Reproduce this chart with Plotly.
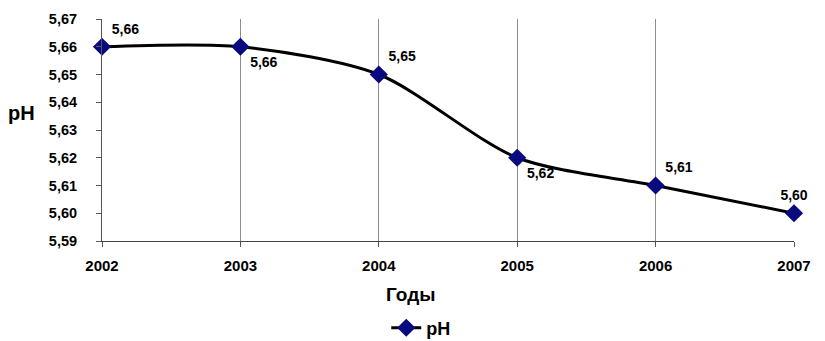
import plotly.graph_objects as go

years = [2002, 2003, 2004, 2005, 2006, 2007]
ph_values = [5.66, 5.66, 5.65, 5.62, 5.61, 5.60]
label_positions = ["top right", "bottom right", "top right", "bottom right", "top right", "top center"]
y_ticks = [5.59, 5.60, 5.61, 5.62, 5.63, 5.64, 5.65, 5.66, 5.67]

FONT = "Arial, Liberation Sans, sans-serif"


def comma(v):
    return f"{v:.2f}".replace(".", ",")


fig = go.Figure()
fig.add_trace(go.Scatter(
    x=years,
    y=ph_values,
    mode="lines+markers+text",
    name="<b>pH</b>",
    line=dict(color="black", width=3, shape="spline", smoothing=0.8),
    marker=dict(symbol="diamond", size=14, color="#0a0a80",
                line=dict(color="#0a0a80", width=0)),
    text=["<b>" + comma(v) + "</b>" for v in ph_values],
    textposition=label_positions,
    textfont=dict(family=FONT, size=14, color="black"),
    cliponaxis=False,
))

fig.update_layout(
    width=825, height=341,
    margin=dict(l=102, r=31, t=19, b=100),
    paper_bgcolor="white",
    plot_bgcolor="white",
    separators=", ",
    font=dict(family=FONT, color="black"),
    showlegend=True,
    legend=dict(
        orientation="h", xref="container", x=0.51, xanchor="center",
        yref="container", y=0.038, yanchor="middle",
        font=dict(family=FONT, size=18, color="black"),
    ),
    xaxis=dict(
        range=[2002, 2007],
        tickmode="array", tickvals=years,
        ticktext=[f"<b>{y}</b>" for y in years],
        tickfont=dict(family=FONT, size=15, color="black"),
        showgrid=True, gridcolor="#8c8c8c", gridwidth=1,
        showline=True, linecolor="#444444", linewidth=1,
        ticks="outside", ticklen=5, tickcolor="#555555",
        ticklabelstandoff=6,
        zeroline=False,
    ),
    yaxis=dict(
        range=[5.59, 5.67],
        tickmode="array", tickvals=y_ticks,
        ticktext=["<b>" + comma(t) + "</b>" for t in y_ticks],
        tickfont=dict(family=FONT, size=14.5, color="black"),
        showgrid=False,
        showline=True, linecolor="#555555", linewidth=1,
        ticks="outside", ticklen=5, tickcolor="#555555",
        ticklabelstandoff=16,
        zeroline=False,
    ),
    annotations=[
        dict(text="<b>pH</b>", xref="paper", yref="paper",
             x=-0.116, y=0.575, xanchor="center", yanchor="middle",
             showarrow=False, font=dict(family=FONT, size=20, color="black")),
        dict(text="<b>Годы</b>", xref="paper", yref="paper",
             x=0.446, y=-0.239, xanchor="center", yanchor="middle",
             showarrow=False, font=dict(family=FONT, size=19, color="black")),
    ],
)

fig.write_html("out.html")
